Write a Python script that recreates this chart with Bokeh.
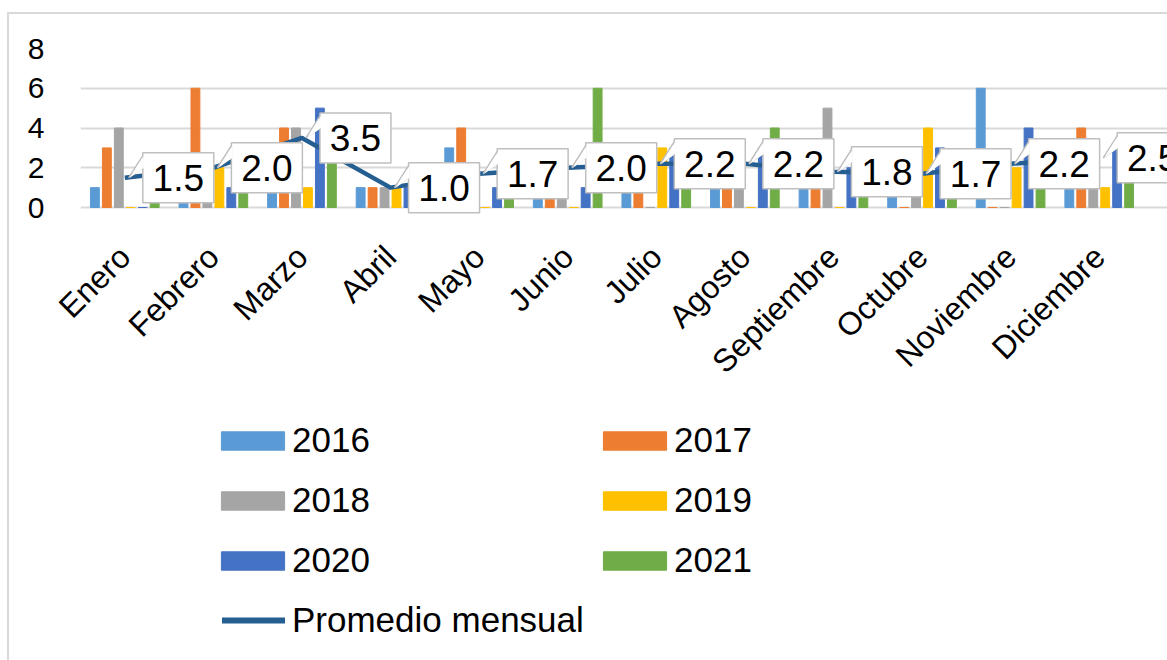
import numpy as np
from math import pi
from bokeh.plotting import figure
from bokeh.layouts import column
from bokeh.models import Range1d, FixedTicker, Legend, LegendItem, InlineStyleSheet
from bokeh.core.properties import value
from bokeh.embed import file_html
from bokeh.resources import INLINE

months = ["Enero", "Febrero", "Marzo", "Abril", "Mayo", "Junio", "Julio",
          "Agosto", "Septiembre", "Octubre", "Noviembre", "Diciembre"]
years = ["2016", "2017", "2018", "2019", "2020", "2021"]
v2016 = [1, 1, 1, 1, 3, 2, 1, 1, 1, 1, 6, 1]
v2017 = [3, 6, 4, 1, 4, 2, 1, 1, 1, 0, 0, 4]
v2018 = [4, 1, 4, 1, 1, 1, 0, 1, 5, 1, 0, 1]
v2019 = [0, 2, 1, 1, 0, 0, 3, 0, 0, 4, 2, 1]
v2020 = [0, 1, 5, 1, 1, 1, 3, 3, 2, 3, 4, 3]
v2021 = [1, 1, 4, 1, 1, 6, 3, 4, 2, 1, 1, 3]
promedio = [1.5, 2.0, 3.5, 1.0, 1.7, 2.0, 2.2, 2.2, 1.8, 1.7, 2.2, 2.5]
y_ticks = [0, 2, 4, 6, 8]

series = [v2016, v2017, v2018, v2019, v2020, v2021]
colors = ["#5B9BD5", "#ED7D31", "#A5A5A5", "#FFC000", "#4472C4", "#70AD47"]
line_color = "#255E91"
FONT = "Liberation Sans"

W, H1, H2 = 1167, 400, 260
FL, FT = 80, 48
FH = 167
n = len(months)
pxx = 1063 / n          # px per category
pxy = 159 / 8           # px per y unit
x_end = (W - FL) / pxx
y_start = -(FH - 159) / pxy

p = figure(width=W, height=H1, x_range=Range1d(0, x_end), y_range=Range1d(y_start, 8),
           output_backend="svg", toolbar_location=None,
           min_border_left=FL, min_border_right=0, min_border_top=FT,
           min_border_bottom=H1 - FT - FH)
p.outline_line_color = None

centers = np.arange(n) + 0.5
offs = (np.arange(6) - 2.5) * 0.135
for i, (vals, c) in enumerate(zip(series, colors)):
    p.vbar(x=centers + offs[i], top=vals, bottom=0, width=0.1,
           fill_color=c, line_color=c)

p.line(centers, promedio, line_color=line_color, line_width=4.5, line_join="round")

# data labels (callouts)
box_w, box_h, gap = 71, 50, 18
prom = np.array(promedio)
bx = centers + gap / pxx
lx = bx + (box_w / 2) / pxx
top = prom + (box_h / 2) / pxy
wx = [[c + 4 / pxx, b, b] for c, b in zip(centers, bx)]
wy = [[v, t - 3 / pxy, t - 15 / pxy] for v, t in zip(prom, top)]
p.patches(xs=wx, ys=wy, fill_color="white", line_color="#bfbfbf", line_width=1.5)
p.rect(x=lx, y=prom, width=box_w, height=box_h, width_units="screen",
       height_units="screen", fill_color="white", line_color="#bfbfbf", line_width=1.5)
wx2 = [[c + 5 / pxx, b + 1 / pxx, b + 1 / pxx] for c, b in zip(centers, bx)]
p.patches(xs=wx2, ys=wy, fill_color="white", line_color=None)
p.text(x=lx, y=prom, text=[f"{v:.1f}" for v in promedio], text_align="center",
       text_baseline="middle", text_font=value(FONT), text_font_size="37px",
       text_color="#000000")

# axes
p.xaxis.ticker = FixedTicker(ticks=list(centers))
p.xaxis.major_label_overrides = {float(c): m for c, m in zip(centers, months)}
p.xaxis.major_label_orientation = pi / 4
p.xaxis.axis_line_color = None
p.xaxis.major_tick_line_color = None
p.xaxis.minor_tick_line_color = None
p.xaxis.major_label_standoff = 30
p.xaxis.major_label_text_font = FONT
p.xaxis.major_label_text_font_size = "32px"
p.xaxis.major_label_text_color = "#000000"

p.yaxis.ticker = FixedTicker(ticks=y_ticks)
p.yaxis.axis_line_color = None
p.yaxis.major_tick_line_color = None
p.yaxis.minor_tick_line_color = None
p.yaxis.major_label_standoff = 30
p.yaxis.major_label_text_font = FONT
p.yaxis.major_label_text_font_size = "30px"
p.yaxis.major_label_text_color = "#000000"

p.xgrid.visible = False
p.ygrid.ticker = FixedTicker(ticks=y_ticks)
p.ygrid.grid_line_color = "#d9d9d9"
p.ygrid.grid_line_width = 2
p.ygrid.bounds = (0, n)

# legend panel (frame aligned with the main plot's frame)
q = figure(width=W, height=H2, x_range=Range1d(0, 1), y_range=Range1d(0, 1),
           output_backend="svg", toolbar_location=None, min_border=0,
           min_border_left=FL)
q.axis.visible = False
q.grid.visible = False
q.outline_line_color = None
# off-screen proxies so that the legend draws its swatches
dummy = [q.vbar(x=[-10], top=[0], bottom=[0], width=0.1, fill_color=c, line_color=c)
         for c in colors]
dline = q.line(x=[-10, -9], y=[0, 0], line_color=line_color, line_width=6,
               line_cap="round")

def make_legend(items, loc, gw, gh, standoff):
    return Legend(items=items, location=loc, orientation="vertical",
                  glyph_width=gw, glyph_height=gh, label_standoff=standoff,
                  label_text_font=FONT, label_text_font_size="35px",
                  label_text_color="#000000", spacing=20, label_height=40,
                  padding=0, margin=0, border_line_color=None,
                  background_fill_alpha=0)

items1 = [LegendItem(label=years[0], renderers=[dummy[0]]),
          LegendItem(label=years[2], renderers=[dummy[2]]),
          LegendItem(label=years[4], renderers=[dummy[4]])]
items2 = [LegendItem(label=years[1], renderers=[dummy[1]]),
          LegendItem(label=years[3], renderers=[dummy[3]]),
          LegendItem(label=years[5], renderers=[dummy[5]])]
items3 = [LegendItem(label="Promedio mensual", renderers=[dline])]
q.add_layout(make_legend(items1, (213 - FL, 80), 79, 23, 0))
q.add_layout(make_legend(items2, (595 - FL, 80), 79, 23, 0))
q.add_layout(make_legend(items3, (222 - FL, 20), 63, 18, 7))

border_css = InlineStyleSheet(css="""
:host { position: relative; }
:host::after {
  content: ""; position: absolute; left: 7px; top: 12px; right: -20px; bottom: -20px;
  border-left: 2px solid #d9d9d9; border-top: 2px solid #d9d9d9;
  pointer-events: none; z-index: 10;
}
""")
layout = column(p, q, spacing=0, stylesheets=[border_css])
open("out.html", "w").write(file_html(layout, INLINE))
